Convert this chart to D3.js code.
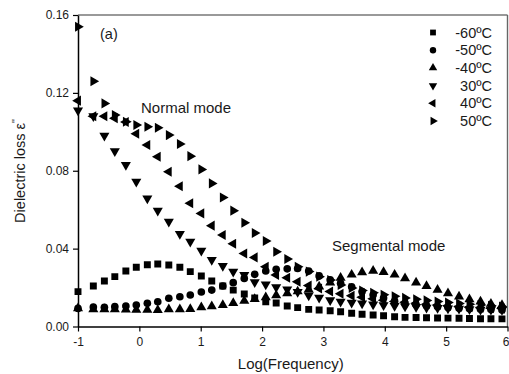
<!DOCTYPE html>
<html>
<head>
<meta charset="utf-8">
<script src="https://cdn.jsdelivr.net/npm/d3@7"></script>
<style>
  html, body { margin: 0; padding: 0; background: #fff; }
  svg { display: block; }
  text { font-family: "Liberation Sans", Arial, sans-serif; fill: #1a1a1a; }
</style>
</head>
<body>
<svg id="chart" width="509" height="374"></svg>
<script>
// log10 of frequency for each measurement point
const logFreq = [-1, -0.75, -0.57, -0.4, -0.22, -0.05, 0.13, 0.3, 0.48, 0.66,
  0.83, 1.01, 1.18, 1.36, 1.53, 1.71, 1.88, 2.06, 2.23, 2.41,
  2.58, 2.76, 2.93, 3.11, 3.28, 3.46, 3.63, 3.81, 3.98, 4.16,
  4.33, 4.51, 4.68, 4.86, 5.03, 5.21, 5.38, 5.56, 5.73, 5.91];

// dielectric loss per temperature
const lossM60 = [0.0179, 0.0208, 0.0234, 0.0256, 0.0285, 0.0304, 0.0317, 0.0321, 0.0316, 0.0304,
  0.0282, 0.0259, 0.0234, 0.0208, 0.0187, 0.0167, 0.0146, 0.0127, 0.0121, 0.0105,
  0.0097, 0.0088, 0.0085, 0.0081, 0.0076, 0.0068, 0.0063, 0.0059, 0.0055, 0.0050,
  0.0047, 0.0046, 0.0045, 0.0044, 0.0043, 0.0042, 0.0041, 0.0040, 0.0040, 0.0039];
const lossM50 = [0.0093, 0.0100, 0.0099, 0.0102, 0.0105, 0.0110, 0.0119, 0.0127, 0.0145, 0.0153,
  0.0162, 0.0177, 0.0187, 0.0208, 0.0225, 0.0247, 0.0268, 0.0285, 0.0294, 0.0296,
  0.0298, 0.0285, 0.0260, 0.0240, 0.0222, 0.0204, 0.0180, 0.0163, 0.0146, 0.0130,
  0.0120, 0.0112, 0.0106, 0.0101, 0.0097, 0.0094, 0.0091, 0.0089, 0.0087, 0.0085];
const lossM40 = [0.0093, 0.0088, 0.0088, 0.0088, 0.0087, 0.0086, 0.0086, 0.0084, 0.0088, 0.0088,
  0.0090, 0.0099, 0.0104, 0.0110, 0.0120, 0.0132, 0.0141, 0.0150, 0.0160, 0.0170,
  0.0180, 0.0190, 0.0205, 0.0225, 0.0250, 0.0266, 0.0278, 0.0286, 0.0280, 0.0266,
  0.0248, 0.0226, 0.0208, 0.0188, 0.0170, 0.0154, 0.0140, 0.0128, 0.0117, 0.0110];
const loss30 = [0.111, 0.108, 0.098, 0.090, 0.083, 0.0744, 0.0658, 0.0595, 0.0538, 0.0475,
  0.0436, 0.0389, 0.0342, 0.0311, 0.0282, 0.0265, 0.0228, 0.0216, 0.0202, 0.0190,
  0.0178, 0.0160, 0.0148, 0.0135, 0.0128, 0.0122, 0.0118, 0.0114, 0.0110, 0.0106,
  0.0103, 0.0100, 0.0097, 0.0095, 0.0093, 0.0091, 0.0089, 0.0087, 0.0086, 0.0085];
const loss40 = [0.116, 0.108, 0.108, 0.107, 0.105, 0.099, 0.0932, 0.0872, 0.0795, 0.0720,
  0.0633, 0.0581, 0.0518, 0.0470, 0.0425, 0.0375, 0.0355, 0.0307, 0.0265, 0.0250,
  0.0230, 0.0210, 0.0195, 0.0180, 0.0168, 0.0158, 0.0150, 0.0142, 0.0135, 0.0129,
  0.0124, 0.0119, 0.0114, 0.0110, 0.0106, 0.0102, 0.0099, 0.0096, 0.0094, 0.0092];
const loss50 = [0.154, 0.126, 0.1146, 0.1086, 0.1052, 0.1035, 0.1026, 0.1021, 0.0983, 0.0937,
  0.0875, 0.0807, 0.0735, 0.0663, 0.0595, 0.0533, 0.0480, 0.0439, 0.0384, 0.0347,
  0.0307, 0.0282, 0.0256, 0.0239, 0.0213, 0.0198, 0.0185, 0.0173, 0.0163, 0.0155,
  0.0147, 0.0140, 0.0134, 0.0128, 0.0123, 0.0118, 0.0114, 0.0110, 0.0106, 0.0102];

const seriesNames = ["-60ºC", "-50ºC", "-40ºC", "30ºC", "40ºC", "50ºC"];
const seriesValues = [lossM60, lossM50, lossM40, loss30, loss40, loss50];

const xTicks = [-1, 0, 1, 2, 3, 4, 5, 6];
const yTicks = [0, 0.04, 0.08, 0.12, 0.16];

const svg = d3.select("#chart");
const plotLeft = 78, plotRight = 507.5, plotTop = 15, plotBottom = 326.5;

const x = d3.scaleLinear().domain([-1, 6]).range([plotLeft, plotRight]);
const y = d3.scaleLinear().domain([0, 0.16]).range([plotBottom, plotTop]);

// marker shapes: square, circle, and triangles pointing up / down / left / right
const shapes = [
  { type: d3.symbolSquare, size: 48, rot: 0 },
  { type: d3.symbolCircle, size: 46, rot: 0 },
  { type: d3.symbolTriangle, size: 44, rot: 0 },
  { type: d3.symbolTriangle, size: 44, rot: 180 },
  { type: d3.symbolTriangle, size: 44, rot: -90 },
  { type: d3.symbolTriangle, size: 44, rot: 90 }
];

svg.append("defs").append("clipPath").attr("id", "plotClip")
  .append("rect").attr("x", plotLeft - 6).attr("y", 0)
  .attr("width", plotRight - plotLeft + 6).attr("height", plotBottom + 2);

// data markers
const plot = svg.append("g").attr("clip-path", "url(#plotClip)");
seriesValues.forEach((vals, si) => {
  const sh = shapes[si];
  const path = d3.symbol().type(sh.type).size(sh.size)();
  plot.append("g").selectAll("path")
    .data(vals.map((v, i) => [logFreq[i], v]))
    .join("path")
    .attr("d", path)
    .attr("fill", "#000")
    .attr("transform", d => `translate(${x(d[0])},${y(d[1])}) rotate(${sh.rot})`);
});

// frame: top and right edges
svg.append("line").attr("x1", plotLeft).attr("x2", plotRight).attr("y1", plotTop).attr("y2", plotTop)
  .attr("stroke", "#777").attr("stroke-width", 1.6);
svg.append("line").attr("x1", plotRight).attr("x2", plotRight).attr("y1", plotTop).attr("y2", plotBottom)
  .attr("stroke", "#666").attr("stroke-width", 1.4);

// axes (plain hyphen for negative tick labels)
const xAxis = d3.axisBottom(x).tickValues(xTicks).tickFormat(d => String(d))
  .tickSizeInner(5).tickSizeOuter(0).tickPadding(6);
const yAxis = d3.axisLeft(y).tickValues(yTicks).tickFormat(d3.format(".2f"))
  .tickSizeInner(5).tickSizeOuter(0).tickPadding(4);

const gx = svg.append("g").attr("transform", `translate(0,${plotBottom})`).call(xAxis);
const gy = svg.append("g").attr("transform", `translate(${plotLeft},0)`).call(yAxis);
[gx, gy].forEach(g => {
  g.select(".domain").attr("stroke", "#000").attr("stroke-width", 1.5);
  g.selectAll(".tick line").attr("stroke", "#000").attr("stroke-width", 1.2);
  g.selectAll(".tick text").attr("font-size", 12).attr("fill", "#1a1a1a")
    .style("font-family", "'Liberation Sans', Arial, sans-serif");
});
// keep the last x label inside the page edge
gx.selectAll(".tick text").filter(d => d === 6)
  .attr("text-anchor", "end").attr("x", 509 - x(6));

// axis titles
svg.append("text").attr("x", (plotLeft + plotRight) / 2 - 2).attr("y", 369)
  .attr("text-anchor", "middle").attr("font-size", 15).text("Log(Frequency)");
const yt = svg.append("text").attr("transform", "translate(25,171) rotate(-90)")
  .attr("text-anchor", "middle").attr("font-size", 14.5);
yt.append("tspan").text("Dielectric loss ε");
yt.append("tspan").attr("dy", -5).attr("font-size", 10).text("''");

// annotations
svg.append("text").attr("x", 100).attr("y", 39).attr("font-size", 14.5).text("(a)");
svg.append("text").attr("x", 141).attr("y", 113).attr("font-size", 15).text("Normal mode");
svg.append("text").attr("x", 332).attr("y", 251).attr("font-size", 15).text("Segmental mode");

// legend
const legend = svg.append("g");
seriesNames.forEach((name, i) => {
  const ly = 32.5 + i * 17.7;
  const sh = shapes[i];
  legend.append("path")
    .attr("d", d3.symbol().type(sh.type).size(sh.size * 0.7)())
    .attr("fill", "#000")
    .attr("transform", `translate(433,${ly}) rotate(${sh.rot})`);
  legend.append("text").attr("x", 492).attr("y", ly + 5)
    .attr("text-anchor", "end").attr("font-size", 14.5).text(name);
});
</script>
</body>
</html>
